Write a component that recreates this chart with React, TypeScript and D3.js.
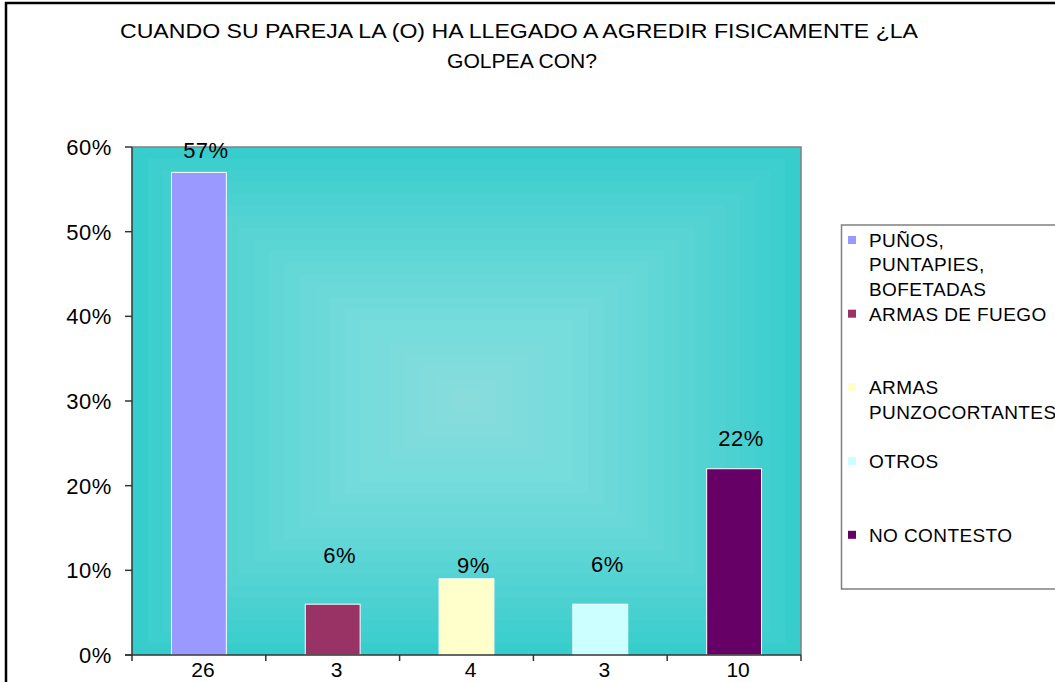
import React from "react";
import * as d3 from "d3";

const categories = ["26", "3", "4", "3", "10"];
const seriesNames = [
  ["PUÑOS,", "PUNTAPIES,", "BOFETADAS"],
  ["ARMAS DE FUEGO"],
  ["ARMAS", "PUNZOCORTANTES"],
  ["OTROS"],
  ["NO CONTESTO"],
];
const values = [0.57, 0.06, 0.09, 0.06, 0.22];
const valueLabels = ["57%", "6%", "9%", "6%", "22%"];
const yTicks = [0, 0.1, 0.2, 0.3, 0.4, 0.5, 0.6];
const colors = ["#9999ff", "#993366", "#ffffcc", "#ccffff", "#660066"];
// pixel lift of each value label above its bar (manual placement in original)
const labelLift = [14, 41, 6, 32, 23];

const W = 1055;
const H = 682;
const plot = { left: 132, top: 147, right: 801, bottom: 655 };
const FONT = "'Liberation Sans', Arial, sans-serif";

export default function App() {
  const x = d3
    .scaleBand<number>()
    .domain(d3.range(categories.length))
    .range([plot.left, plot.right])
    .paddingInner(0.59)
    .paddingOuter(0.295);
  const band = (plot.right - plot.left) / categories.length;
  const y = d3.scaleLinear().domain([0, 0.6]).range([plot.bottom, plot.top]);
  const pw = plot.right - plot.left;
  const ph = plot.bottom - plot.top;
  const steps = 22;
  const nested = d3.range(steps).map((i) => {
    const f = i / steps;
    return {
      x: plot.left + (pw / 2) * f,
      y: plot.top + (ph / 2) * f,
      w: pw * (1 - f),
      h: ph * (1 - f),
    };
  });
  const legendTop = 225;
  const itemStep = 73.7;
  const lineH = 24.5;

  return (
    <svg
      width={W}
      height={H}
      style={{ position: "absolute", left: 0, top: 0, background: "#fff" }}
      fontFamily={FONT}
    >
      <rect x={6} y={3} width={1200} height={900} fill="#fff" stroke="#000" strokeWidth={2.5} />
      <text x={519} y={38} textAnchor="middle" fontSize={20} textLength={798} lengthAdjust="spacingAndGlyphs">
        CUANDO SU PAREJA LA (O) HA LLEGADO  A AGREDIR FISICAMENTE ¿LA
      </text>
      <text x={522} y={68} textAnchor="middle" fontSize={20} textLength={150} lengthAdjust="spacingAndGlyphs">
        GOLPEA CON?
      </text>

      <rect x={plot.left} y={plot.top} width={pw} height={ph} fill="#33cccc" />
      {nested.map((r, i) => (
        <rect key={i} x={r.x} y={r.y} width={r.w} height={r.h} fill="#ffffff" fillOpacity={0.028} />
      ))}
      <path
        d={`M${plot.left},${plot.top}H${plot.right}V${plot.bottom}`}
        fill="none"
        stroke="#808080"
        strokeWidth={1.5}
      />

      {values.map((v, i) => (
        <rect
          key={i}
          x={x(i)}
          y={y(v)}
          width={x.bandwidth()}
          height={y(0) - y(v)}
          fill={colors[i]}
          stroke="#ffffff"
          strokeWidth={1}
        />
      ))}

      {values.map((v, i) => (
        <text
          key={i}
          x={(x(i) as number) + x.bandwidth() / 2 + 7}
          y={y(v) - labelLift[i]}
          textAnchor="middle"
          fontSize={22}
          letterSpacing={0.5}
        >
          {valueLabels[i]}
        </text>
      ))}

      <line x1={plot.left} x2={plot.left} y1={plot.top} y2={plot.bottom} stroke="#333" strokeWidth={1.5} />
      <line x1={plot.left - 7} x2={plot.right} y1={plot.bottom} y2={plot.bottom} stroke="#333" strokeWidth={1.5} />
      {yTicks.map((t) => (
        <g key={t}>
          <line x1={plot.left - 7} x2={plot.left} y1={y(t)} y2={y(t)} stroke="#333" strokeWidth={1.5} />
          <text x={112} y={y(t)} dy="0.36em" textAnchor="end" fontSize={22} letterSpacing={0.6}>
            {d3.format(".0%")(t)}
          </text>
        </g>
      ))}
      {d3.range(categories.length + 1).map((i) => (
        <line
          key={i}
          x1={plot.left + band * i}
          x2={plot.left + band * i}
          y1={plot.bottom}
          y2={plot.bottom + 6}
          stroke="#333"
          strokeWidth={1.5}
        />
      ))}
      {categories.map((c, i) => (
        <text
          key={i}
          x={(x(i) as number) + x.bandwidth() / 2 + 4}
          y={677}
          textAnchor="middle"
          fontSize={21}
        >
          {c}
        </text>
      ))}

      <rect x={841.5} y={legendTop} width={300} height={364} fill="#fff" stroke="#808080" strokeWidth={1.5} />
      {seriesNames.map((lines, i) => {
        const cy = 240 + itemStep * i;
        return (
          <g key={i}>
            <rect x={848} y={cy - 4} width={8} height={8} fill={colors[i]} />
            {lines.map((l, j) => (
              <text key={j} x={869} y={cy + lineH * j} dy="0.36em" fontSize={19} letterSpacing={0.4}>
                {l}
              </text>
            ))}
          </g>
        );
      })}
    </svg>
  );
}
